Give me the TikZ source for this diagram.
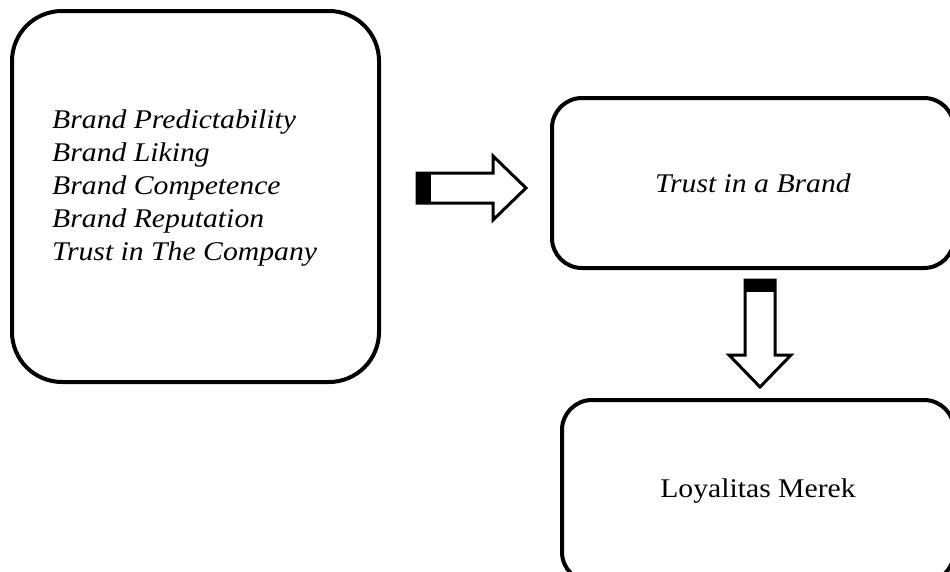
\documentclass[tikz,border=0pt]{standalone}
\usepackage{fontspec}
\setmainfont{Liberation Serif}
\newfontfamily\bigfont[FakeStretch=1.1]{Liberation Serif}
\begin{document}
\begin{tikzpicture}[x=1pt,y=-1pt,
  box/.style={draw=black,line width=4pt,fill=white,inner sep=0pt},
  arr/.style={draw=black,line width=3pt,fill=white,line join=miter},
  txt/.style={font=\bigfont\fontsize{27}{33}\selectfont}]
\useasboundingbox (0,0) rectangle (950,571);
\node[box,rounded corners=50pt,minimum width=367pt,minimum height=371pt] (b1) at (195.5,196.5) {};
\node[txt,font=\bigfont\fontsize{27}{33}\selectfont\itshape,align=left,anchor=west,inner sep=0pt] (t1) at (52,188)
 {Brand Predictability\\Brand Liking\\Brand Competence\\Brand Reputation\\Trust in The Company};
\node[box,rounded corners=30pt,minimum width=402pt,minimum height=170pt,txt,font=\bigfont\fontsize{27}{33}\selectfont\itshape] (b2) at (753,183) {Trust in a Brand};
\node[box,rounded corners=30pt,minimum width=392pt,minimum height=182pt,txt] (b3) at (758,491) {Loyalitas Merek};
% right arrow
\draw[arr] (417,173) -- (493,173) -- (493,156) -- (526,188) -- (493,220) -- (493,203) -- (417,203) -- cycle;
\fill[black] (417,173) rectangle (431,203);
% down arrow
\draw[arr] (745,280) -- (775,280) -- (775,355) -- (791,355) -- (760,387) -- (729,355) -- (745,355) -- cycle;
\fill[black] (745,280) rectangle (775,292);
\end{tikzpicture}
\end{document}
